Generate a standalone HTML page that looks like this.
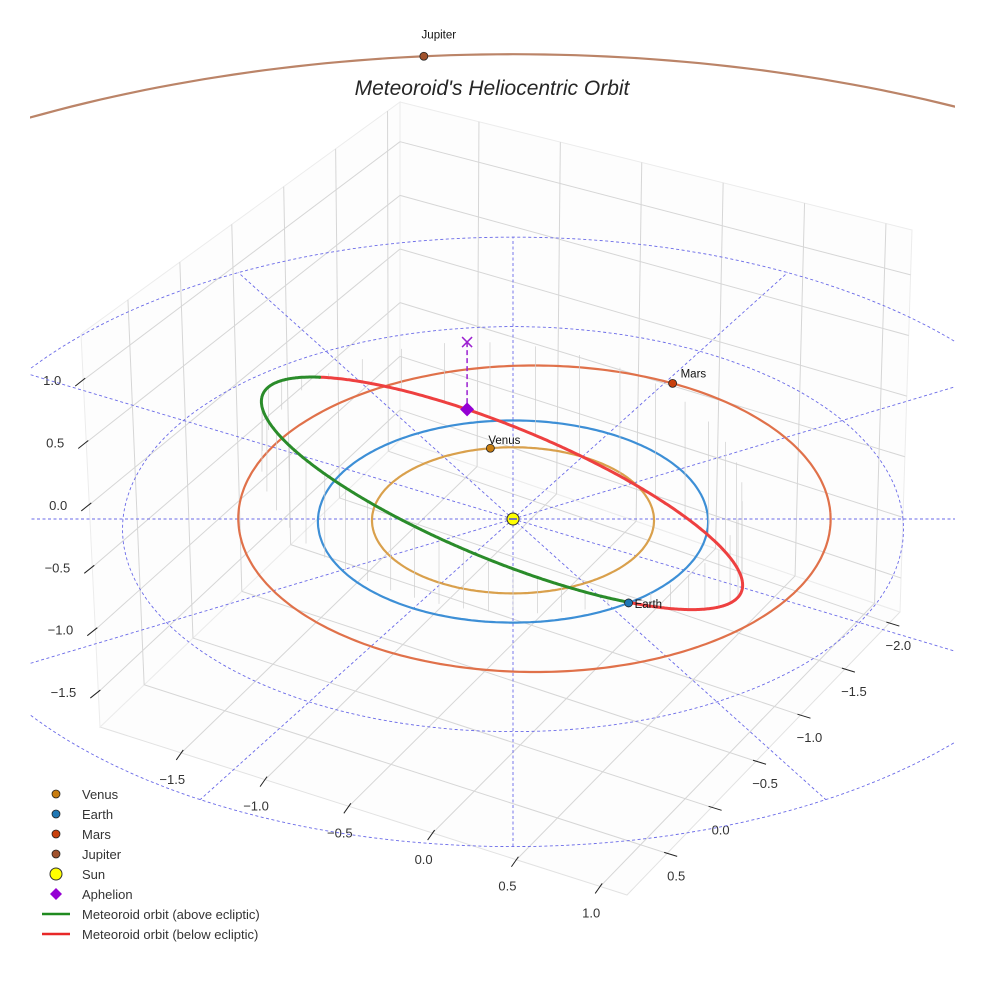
<!DOCTYPE html>
<html><head><meta charset="utf-8"><style>
html,body{margin:0;padding:0;background:#fff;width:984px;height:984px;overflow:hidden;}
svg{display:block;font-family:"Liberation Sans",sans-serif;}
</style></head><body>
<svg id="chart" width="984" height="984" viewBox="0 0 984 984">
<defs><clipPath id="axclip"><rect x="30" y="0" width="925" height="984"/></clipPath></defs>
<rect width="984" height="984" fill="#fff"/>
<g id="box"></g>
<g id="grid" clip-path="url(#axclip)"></g>
<g id="orbits" clip-path="url(#axclip)"></g>
<g id="stems"></g>
<g id="meteor"></g>
<g id="marks"></g>
<text x="492" y="95" text-anchor="middle" font-size="21" font-style="italic" fill="#262626">Meteoroid's Heliocentric Orbit</text>
<g id="legend"></g>
</svg>
<script>
// ---- data ----
const planetNames = ["Venus","Earth","Mars","Jupiter"];
const planetRadii = [0.723, 1.0, 1.52, 5.2];
const planetCentersX = [0, 0, 0.11, 0];
const planetCentersY = [0, 0, 0.06, 0];
const planetAngles = [99.4, -54.5, 61, 95.7];
const planetColors = ["#c87d10","#1f77b4","#c8400c","#a0522d"];
const orbitColors = ["#d9a04c","#3d8fd6","#e0714a","#bb8468"];
const gridRings = [1, 2, 3];
const gridSpokes = [0,30,60,90,120,150,180,210,240,270,300,330];
// meteoroid orbital elements
const metA = [1.42];
const metE = [0.335];
const metI = [26.4];
const metNode = [125];
const metPeri = [150];
// axis ticks
const tickA = [-1.5,-1.0,-0.5,0.0,0.5,1.0];
const tickB = [-2.0,-1.5,-1.0,-0.5,0.0,0.5];
const tickZ = [-1.5,-1.0,-0.5,0.0,0.5,1.0];

const NS="http://www.w3.org/2000/svg";
function mk(parent,tag,attrs){const e=document.createElementNS(NS,tag);for(const k in attrs)e.setAttribute(k,attrs[k]);parent.appendChild(e);return e;}
const CX=513, CY=519, KX=195, KY=101, KZ=167, AL=0.025;
function proj(X,Y,Z){const w=1+AL*Y;return [CX+KX*X/w, CY-(KY*Y+KZ*(Z||0))/w];}
const D=Math.PI/180;

// ---- box ----
const box=document.getElementById('box');
const L=[100,727],F=[627,895],R=[900,612],Bk=[400,440],Lt=[81,334],Bt=[400,102],Rt=[912,230];
const Amin=-1.985,Amax=1.16,Bf=0.952,Br=-2.12,Zmin=-1.78,Zmax=1.37;
function lerp(p,q,t){return [p[0]+(q[0]-p[0])*t,p[1]+(q[1]-p[1])*t];}
function bil(p00,p10,p11,p01,u,v){return lerp(lerp(p00,p10,u),lerp(p01,p11,u),v);}
function line(g,p,q,c,w,name){const e=mk(g,'line',{x1:p[0],y1:p[1],x2:q[0],y2:q[1],stroke:c,'stroke-width':w});

return e;}
mk(box,'polygon',{points:[L,F,R,Bk].join(' '),fill:'#fdfdfd',stroke:'#e2e2e2',});
mk(box,'polygon',{points:[L,Bk,Bt,Lt].join(' '),fill:'#fdfdfd',stroke:'#ececec',});
mk(box,'polygon',{points:[Bk,R,Rt,Bt].join(' '),fill:'#fdfdfd',stroke:'#ececec',});
const gc='#d6d6d6';
tickA.forEach(a=>{const u=(a-Amin)/(Amax-Amin);
  line(box,bil(L,F,R,Bk,u,0),bil(L,F,R,Bk,u,1),gc,1,'floor-gridline-a');
  line(box,lerp(Bk,R,u),lerp(Bt,Rt,u),gc,1,'back-gridline-a');
  const p=lerp(L,F,u);
  line(box,[p[0]+2,p[1]-3],[p[0]-5,p[1]+7],'#222',1,'tick-a');
  const t=mk(box,'text',{x:p[0]-9,y:p[1]+31,'font-size':13,fill:'#333','text-anchor':'middle'});t.textContent=a.toFixed(1).replace('-','\u2212');
  
  
});
tickB.forEach(b=>{const v=(Bf-b)/(Bf-Br);
  line(box,bil(L,F,R,Bk,0,v),bil(L,F,R,Bk,1,v),gc,1,'floor-gridline-b');
  line(box,lerp(L,Bk,v),lerp(Lt,Bt,v),gc,1,'left-gridline-b');
  const p=lerp(F,R,v);
  line(box,[p[0]-3,p[1]-1],[p[0]+10,p[1]+3],'#222',1,'tick-b');
  const t=mk(box,'text',{x:p[0]+9,y:p[1]+27,'font-size':13,fill:'#333','text-anchor':'middle'});t.textContent=b.toFixed(1).replace('-','\u2212');
  
  
});
tickZ.forEach(z=>{const v=(z-Zmin)/(Zmax-Zmin);
  line(box,lerp(L,Lt,v),lerp(Bk,Bt,v),gc,1,'left-gridline-z');
  line(box,lerp(Bk,Bt,v),lerp(R,Rt,v),gc,1,'back-gridline-z');
  const p=lerp(L,Lt,v);
  line(box,[p[0]-8,p[1]+6],[p[0]+2,p[1]-2],'#222',1,'tick-z');
  const t=mk(box,'text',{x:p[0]-22,y:p[1]+5,'font-size':13,fill:'#333','text-anchor':'end'});t.textContent=z.toFixed(1).replace('-','\u2212');
  
  
});

// ---- ecliptic grid ----
function ringPath(r,cx,cy){cx=cx||0;cy=cy||0;let d='';for(let k=0;k<=360;k++){const p=proj(cx+r*Math.cos(k*D),cy+r*Math.sin(k*D),0);d+=(k?'L':'M')+p[0].toFixed(1)+','+p[1].toFixed(1);}return d;}
const grid=document.getElementById('grid');
gridRings.forEach(r=>{const e=mk(grid,'path',{d:ringPath(r),fill:'none',stroke:'#6a6ae8','stroke-width':0.9,'stroke-dasharray':'3,2.5'});
  
  });
const rMax=gridRings[gridRings.length-1];
gridSpokes.forEach(a=>{const p=proj(0,0),q=proj(rMax*Math.cos(a*D),rMax*Math.sin(a*D));
  const e=line(grid,p,q,'#6a6ae8',0.9,'grid-spoke');e.setAttribute('stroke-dasharray','3,2.5');});

// ---- planet orbits ----
const orb=document.getElementById('orbits');
planetRadii.forEach((r,i)=>{const e=mk(orb,'path',{d:ringPath(r,planetCentersX[i],planetCentersY[i]),fill:'none',stroke:orbitColors[i],'stroke-width':2.2});
  
  });

// ---- meteoroid ----
const a=metA[0],e=metE[0],inc=metI[0]*D,Om=metNode[0]*D,w=metPeri[0]*D;
function metPos(nu){const r=a*(1-e*e)/(1+e*Math.cos(nu));const u=nu+w;
  return [r*(Math.cos(Om)*Math.cos(u)-Math.sin(Om)*Math.sin(u)*Math.cos(inc)),
          r*(Math.sin(Om)*Math.cos(u)+Math.cos(Om)*Math.sin(u)*Math.cos(inc)),
          r*Math.sin(u)*Math.sin(inc)];}
const stems=document.getElementById('stems');
for(let k=0;k<360;k+=8){const P=metPos(k*D);const p=proj(P[0],P[1],P[2]),q=proj(P[0],P[1],0);
  line(stems,p,q,'#cfcfcf',0.7,'orbit-stem');}
const met=document.getElementById('meteor');
let d='',prevUp=null;
function flush(up){if(d){const el=mk(met,'path',{d:d,fill:'none',stroke:up?'#2a8c2a':'#ee4040','stroke-width':3,'stroke-linecap':'round'});
  
  }}
for(let k=0;k<=720;k++){const P=metPos(k*0.5*D);const up=P[2]>=0;const p=proj(P[0],P[1],P[2]);
  if(prevUp!==null&&up!==prevUp){d+='L'+p[0].toFixed(1)+','+p[1].toFixed(1);flush(prevUp);d='';}
  d+=(d?'L':'M')+p[0].toFixed(1)+','+p[1].toFixed(1);prevUp=up;}
flush(prevUp);

// ---- markers ----
const marks=document.getElementById('marks');
const A=metPos(Math.PI);const ap=proj(A[0],A[1],A[2]),ae=proj(A[0],A[1],0);
const al=line(marks,ae,ap,'#9b20d0',1.5,'aphelion-drop-line');al.setAttribute('stroke-dasharray','5,3');
const xm=mk(marks,'path',{d:`M${ae[0]-5},${ae[1]-5}L${ae[0]+5},${ae[1]+5}M${ae[0]-5},${ae[1]+5}L${ae[0]+5},${ae[1]-5}`,stroke:'#9b20d0','stroke-width':1.5,fill:'none'});


const dm=mk(marks,'path',{d:`M${ap[0]},${ap[1]-7}L${ap[0]+7},${ap[1]}L${ap[0]},${ap[1]+7}L${ap[0]-7},${ap[1]}Z`,fill:'#9400d3'});


const labOff=[[-2,-4,'start'],[6,5,'start'],[8,-6,'start'],[15,-18,'middle']];
planetNames.forEach((n,i)=>{const r=planetRadii[i],t=planetAngles[i]*D;const p=proj(planetCentersX[i]+r*Math.cos(t),planetCentersY[i]+r*Math.sin(t));
  const c=mk(marks,'circle',{cx:p[0],cy:p[1],r:4,fill:planetColors[i],stroke:'#222','stroke-width':0.8});
  
  
  const tx=mk(marks,'text',{x:p[0]+labOff[i][0],y:p[1]+labOff[i][1],'font-size':11.5,fill:'#111','text-anchor':labOff[i][2]});tx.textContent=n;
  
  
});
const sun=mk(marks,'circle',{cx:CX,cy:CY,r:6,fill:'#ffff00',stroke:'#333','stroke-width':1});


line(marks,[CX-4,CY],[CX+4,CY],'#4a4ae0',1.5,'sun-center');

// ---- legend ----
const lg=document.getElementById('legend');
const legLabels=["Venus","Earth","Mars","Jupiter","Sun","Aphelion","Meteoroid orbit (above ecliptic)","Meteoroid orbit (below ecliptic)"];
legLabels.forEach((lab,i)=>{const y=794+i*20;
  const g=mk(lg,'g',{});
  
  
  if(i<4){mk(g,'circle',{cx:56,cy:y,r:4,fill:planetColors[i],stroke:'#222','stroke-width':0.8});}
  else if(i===4){mk(g,'circle',{cx:56,cy:y,r:6,fill:'#ffff00',stroke:'#333','stroke-width':1});}
  else if(i===5){mk(g,'path',{d:`M56,${y-6}L62,${y}L56,${y+6}L50,${y}Z`,fill:'#9400d3'});}
  else{mk(g,'line',{x1:42,y1:y,x2:70,y2:y,stroke:i===6?'#1f8a1f':'#e82828','stroke-width':2.5});}
  const t=mk(g,'text',{x:82,y:y+5,'font-size':13,fill:'#333'});t.textContent=lab;
});
</script>
</body></html>
